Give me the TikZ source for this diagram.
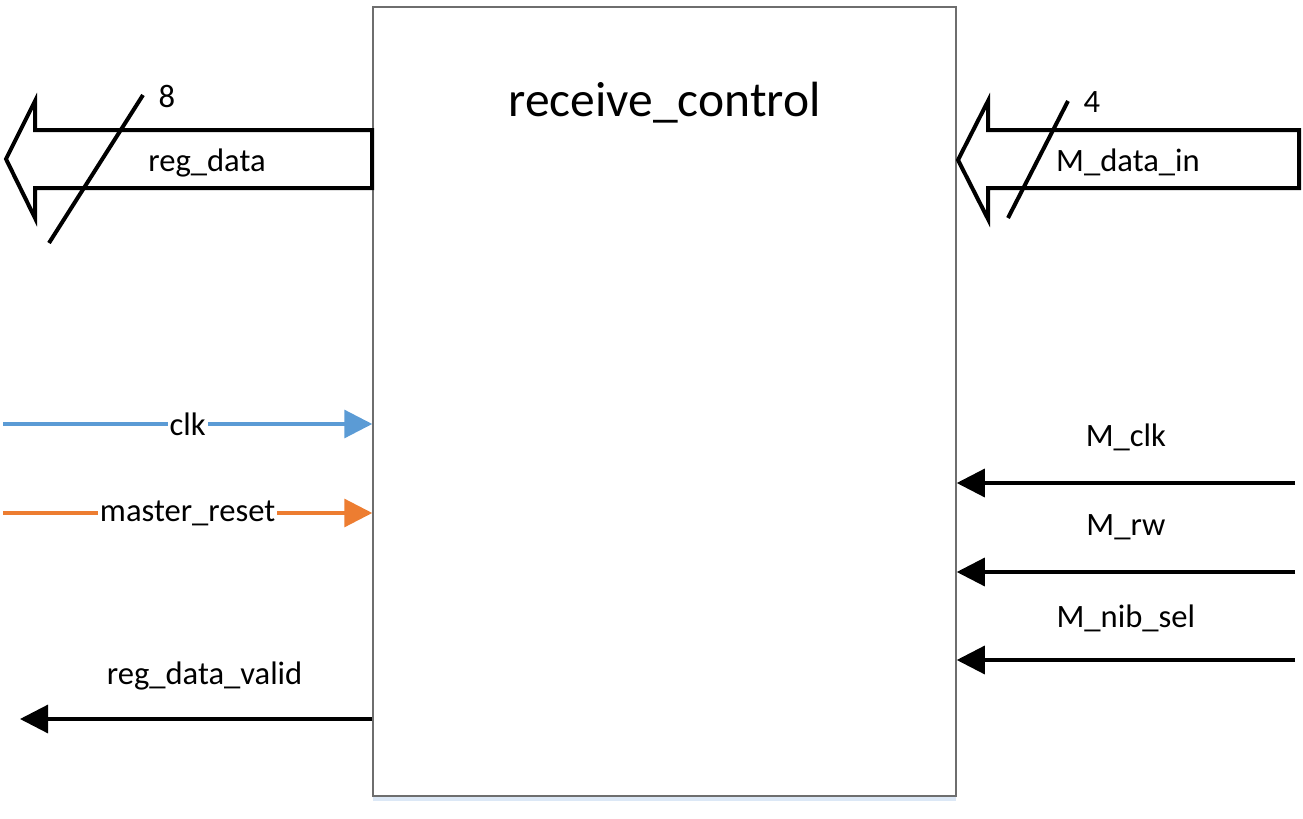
\documentclass[tikz,border=0pt]{standalone}
\usepackage{fontspec}
\setmainfont{Carlito}
\usetikzlibrary{arrows.meta,positioning,shadows}

\definecolor{clkblue}{HTML}{5B9BD5}
\definecolor{rstorange}{HTML}{ED7D31}
\definecolor{boxgray}{HTML}{6E6E6E}
\definecolor{shadowblue}{HTML}{DCE8F6}

\begin{document}
\begin{tikzpicture}[x=0.5pt,y=-0.5pt,
    sig/.style={line width=1.6pt,-{Triangle[length=14pt,width=14pt]}},
    bus/.style={line width=2pt,line join=miter},
    lbl/.style={font=\fontsize{16.3}{19}\selectfont,inner sep=1pt}]
  \useasboundingbox (0,0) rectangle (1303,819);

  % the block
  \node[draw=boxgray,line width=0.75pt,fill=white,inner sep=0pt,
        minimum width=291.5pt,minimum height=394.5pt,
        drop shadow={shadow xshift=0pt,shadow yshift=-2.5pt,fill=shadowblue,opacity=1}] (rc) at (664.5,401.5) {};
  \node[font=\fontsize{24.75}{30}\selectfont] (title) at (664.5,103) {receive\_control};

  % busses
  \draw[bus] (372,130) -- (35,130) -- (35,101) -- (6,159) -- (35,218) -- (35,188) -- (372,188) -- cycle;
  \draw[bus] (143,95) -- (49,243);
  \node[lbl] (w8) at (167,96) {8};
  \node[lbl] (regdata) at (207,163) {reg\_data};

  \draw[bus] (1299,130) -- (988,130) -- (988,101) -- (958,160) -- (988,219) -- (988,188) -- (1299,188) -- cycle;
  \draw[bus] (1068,101) -- (1008,218);
  \node[lbl] (w4) at (1092,102) {4};
  \node[lbl] (mdata) at (1128,162) {M\_data\_in};

  % left side
  \coordinate (clk) at (3,424);
  \coordinate (rst) at (3,513);
  \coordinate (valid) at (20,719);
  \draw[sig,clkblue] (clk) -- node[lbl,fill=white,text=black] {clk} (clk -| rc.west);
  \draw[sig,rstorange] (rst) -- node[lbl,fill=white,text=black] {master\_reset} (rst -| rc.west);
  \draw[sig] (valid -| rc.west) -- node[lbl,pos=0.476,yshift=21.5pt] {reg\_data\_valid} (valid);

  % right side
  \coordinate (mclk) at (1295,483);
  \coordinate (mrw) at (1295,572);
  \coordinate (mnib) at (1295,660);
  \draw[sig] (mclk) -- node[lbl,yshift=23pt] {M\_clk} (mclk -| rc.east);
  \draw[sig] (mrw) -- node[lbl,yshift=22.5pt] {M\_rw} (mrw -| rc.east);
  \draw[sig] (mnib) -- node[lbl,yshift=21pt] {M\_nib\_sel} (mnib -| rc.east);
\end{tikzpicture}
\end{document}
